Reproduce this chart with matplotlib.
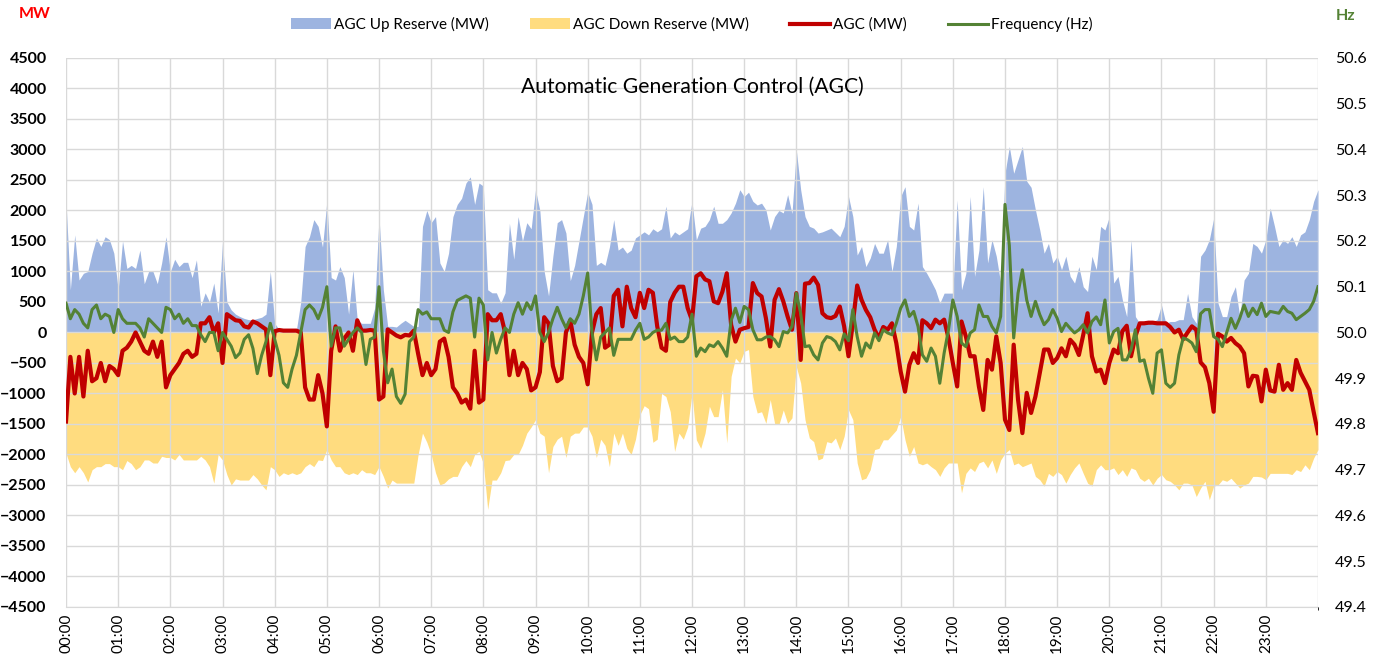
import numpy as np
import matplotlib
matplotlib.use("Agg")
import matplotlib.pyplot as plt
from matplotlib.patches import Patch
from matplotlib.lines import Line2D

plt.rcParams['font.family'] = ['Lato', 'DejaVu Sans']

# one reading every 5 minutes, 00:00 .. 24:00
minutes = np.arange(0, 1441, 5)

# 00:00 - 11:55
up_am = [
    2150, 700, 1600, 860, 970, 1000, 1300, 1550, 1410, 1570, 1520, 1300,
    700, 1500, 1050, 1100, 1050, 1350, 800, 1000, 1000, 800, 1140, 1570,
    1000, 1200, 1080, 1150, 1150, 900, 1190, 430, 650, 500, 810, 320,
    1490, 500, 370, 300, 260, 230, 210, 210, 230, 250, 300, 1000,
    150, 50, 45, 45, 45, 45, 500, 1410, 1570, 1850, 1740, 1400,
    2150, 900, 860, 1080, 900, 300, 1030, 200, 150, 150, 150, 400,
    1900, 700, 100, 100, 90, 150, 200, 150, 100, 100, 1740, 2000,
    1800, 1900, 1140, 1000, 1300, 1900, 2100, 2200, 2450, 2550, 2100, 2450,
    2400, 700, 650, 650, 480, 650, 1790, 1200, 1900, 1500, 1800, 1700,
    2340, 2000, 1000, 600, 1250, 1800, 1850, 1630, 850, 1100, 1500, 1900,
    2300, 2100, 1100, 1150, 1100, 1400, 1850, 1350, 1400, 1300, 1350, 1550,
    1600, 1650, 1600, 1700, 1650, 1700, 2070, 1550, 1650, 1600, 1650, 1700,
]
# 12:00 - 18:00
up_pm = [
    2150, 1520, 1710, 1740, 1850, 2070, 1790, 1790, 1850, 1960, 2120, 2340,
    2230, 2300, 2150, 2090, 2120, 2010, 1680, 1900, 2000, 1960, 2260, 1950,
    2990, 2340, 1900, 1740, 1710, 1630, 1650, 1680, 1710, 1640, 1570, 1740,
    2230, 1900, 1270, 1410, 1080, 1220, 1460, 1300, 1300, 1520, 1000, 1410,
    2230, 2390, 1740, 1680, 2120, 1080, 970, 840, 700, 480, 645, 645,
    645, 2170, 700, 970, 2230, 920, 1350, 2390, 1140, 1520, 1250, 810,
    2610,
]
# 18:05 - 24:00
up_eve = [
    3050, 2610, 2830, 3050, 2480, 2380, 2010, 1680, 1300, 1460, 1140, 1250,
    1030, 1250, 920, 810, 1080, 750, 670, 1250, 1030, 1740, 1680, 1900,
    810, 920, 535, 260, 1520, 260, 150, 180, 180, 180, 210, 450,
    150, 180, 180, 210, 210, 640, 260, 150, 1250, 1350, 1520, 1870,
    480, 260, 260, 590, 750, 260, 860, 970, 1460, 1410, 1300, 1520,
    2040, 1740, 1410, 1520, 1460, 1570, 1410, 1600, 1650, 1850, 2150, 2340,
]

down_am = [
    -1980, -2200, -2300, -2200, -2300, -2450, -2250, -2200, -2200, -2150, -2150, -2200,
    -2200, -2250, -2100, -2150, -2250, -2200, -2090, -2090, -2140, -2140, -2030, -2050,
    -2050, -2090, -2000, -2090, -2090, -2090, -2090, -2030, -2090, -2200, -2470, -2000,
    -2090, -2330, -2500, -2400, -2420, -2420, -2420, -2330, -2400, -2500, -2580, -2200,
    -2250, -2360, -2300, -2330, -2300, -2330, -2300, -2200, -2150, -2200, -2090, -2100,
    -1920, -2090, -2200, -2200, -2300, -2330, -2300, -2330, -2250, -2300, -2300, -2330,
    -2200, -2360, -2550, -2420, -2470, -2470, -2470, -2470, -2470, -2000, -1650, -1800,
    -2000, -2300, -2500, -2470, -2400, -2360, -2360, -2200, -2100, -2200, -2000, -1950,
    -2150, -2900, -2420, -2420, -2300, -2100, -2090, -2000, -2000, -1850, -1650, -1550,
    -1430, -1650, -1700, -2300, -1870, -1750, -1700, -2050, -1700, -1650, -1650, -1550,
    -1550, -1700, -2050, -1750, -1850, -2200, -1650, -1850, -1650, -1900, -2000, -1750,
    -1350, -1200, -1250, -1800, -1750, -1000, -1050, -1300, -1950, -1650, -1750, -1550,
]
down_pm = [
    -1000, -1760, -1900, -1650, -1210, -1380, -1380, -940, -1810, -720, -420, -500,
    -310, -280, -1050, -1320, -1300, -1490, -1100, -1490, -1510, -1270, -1490, -1400,
    -560, -830, -1430, -1730, -1790, -2090, -2060, -1790, -1810, -1730, -1920, -1700,
    -1270, -1430, -2140, -2415, -2390, -2250, -1920, -1900, -1760, -1760, -1680, -1600,
    -1380, -1760, -2030, -1870, -2140, -2170, -2140, -2200, -2250, -2360, -2220, -2140,
    -2140, -2140, -2630, -2310, -2220, -2280, -2140, -2110, -2220, -2090, -2310, -2090,
    -1980,
]
down_eve = [
    -1920, -2170, -2140, -2200, -2170, -2140, -2360, -2415, -2520, -2310, -2360, -2280,
    -2330, -2470, -2330, -2220, -2140, -2310, -2470, -2520, -2250, -2170, -2250, -2250,
    -2220, -2330, -2250, -2360, -2220, -2250, -2390, -2440, -2390, -2500, -2390, -2330,
    -2415, -2440, -2500, -2580, -2470, -2470, -2500, -2690, -2550, -2440, -2740, -2520,
    -2500, -2415, -2440, -2390, -2470, -2550, -2500, -2470, -2360, -2360, -2370, -2415,
    -2310, -2310, -2310, -2310, -2310, -2330, -2250, -2280, -2170, -2250, -2060, -1920,
]

agc_am = [
    -1460, -400, -1000, -400, -1050, -300, -800, -750, -500, -800, -550, -600,
    -700, -300, -250, -150, 0, -150, -300, -350, -150, -400, -150, -900,
    -700, -600, -500, -350, -300, -400, -350, 150, 150, 250, 0, 150,
    -500, 300, 250, 200, 190, 100, 80, 180, 150, 100, 50, -700,
    20, 40, 30, 30, 30, 30, 0, -900, -1100, -1100, -700, -1000,
    -1540, -300, 100, -300, -100, 0, -300, 200, 30, 30, 40, 30,
    -1100, -1050, 50, 0, -50, -80, -40, -50, 30, -350, -700, -500,
    -700, -600, -150, -100, -400, -900, -1000, -1150, -1100, -1250, -300, -1150,
    -1100, 300, 200, 200, 300, 0, -700, -300, -700, -500, -600, -950,
    -900, -650, 250, 150, -550, -800, -750, 0, 200, -200, -400, -500,
    -850, 0, 300, 400, -250, -200, 600, 700, 100, 750, 400, 250,
    650, 400, 700, 650, 100, -250, -300, 500, 650, 750, 750, 400,
]
agc_pm = [
    200, 920, 970, 870, 840, 510, 480, 670, 970, 125, -150, 45,
    70, 90, 810, 645, 590, 235, -230, 535, 710, 510, 260, 45,
    645, -450, 800, 810, 900, 780, 315, 250, 235, 270, 425, 100,
    -390, 150, 770, 535, 370, 250, 45, -90, 90, 45, 150, -175,
    -640, -970, -530, -340, -500, 200, 150, 70, 210, 150, 210, -90,
    -500, -885, 180, -65, -390, -390, -885, -1270, -450, -610, -65, -500,
    -1430,
]
agc_eve = [
    -1600, -200, -1100, -1650, -990, -1320, -1050, -660, -280, -280, -500, -420,
    -260, -390, -120, -200, -370, -40, 315, -390, -640, -610, -830, -500,
    -280, -340, 20, 110, -390, -65, 150, 150, 160, 160, 150, 150,
    150, 90, 0, 45, -110, 0, 100, 45, -490, -570, -830, -1300,
    -20, -65, -150, -90, -175, -230, -340, -885, -710, -720, -1130, -610,
    -950, -970, -530, -940, -830, -940, -450, -660, -800, -940, -1300, -1650,
]

freq_am = [
    50.064, 50.03, 50.05, 50.04, 50.02, 50.01, 50.05, 50.06, 50.03, 50.04, 50.035, 50.0,
    50.05, 50.03, 50.02, 50.02, 50.02, 50.01, 49.99, 50.03, 50.02, 50.01, 50.0, 50.055,
    50.05, 50.03, 50.04, 50.02, 50.03, 50.015, 50.015, 49.995, 49.98, 50.0, 50.0, 49.96,
    50.0, 49.985, 49.97, 49.945, 49.955, 49.985, 49.995, 49.965, 49.91, 49.95, 49.98, 50.02,
    49.985, 49.95, 49.89, 49.88, 49.92, 49.95, 50.0, 50.05, 50.06, 50.05, 50.03, 50.055,
    50.10, 49.97, 50.01, 50.01, 49.97, 49.985, 50.0, 50.01, 50.0, 49.93, 49.985, 49.99,
    50.10, 49.96, 49.89, 49.92, 49.86, 49.845, 49.865, 49.98, 49.99, 50.05, 50.04, 50.045,
    50.03, 50.03, 50.03, 50.005, 50.0, 50.045, 50.07, 50.075, 50.08, 50.075, 49.99, 50.075,
    50.06, 49.94, 50.0, 49.955, 49.985, 50.01, 50.0, 50.04, 50.065, 50.04, 50.065, 50.05,
    50.08, 50.0, 49.98, 50.0, 50.03, 50.055, 50.03, 50.01, 50.03, 50.02, 50.04, 50.08,
    50.13, 50.0, 49.94, 49.99, 50.0, 50.01, 49.95, 49.985, 49.985, 49.985, 49.985, 50.005,
    50.02, 49.985, 49.99, 50.0, 50.005, 50.005, 50.02, 49.985, 49.99, 49.98, 49.98, 49.99,
]
freq_pm = [
    50.04, 49.948, 49.966, 49.958, 49.973, 49.969, 49.98, 49.966, 49.948, 50.026, 50.053, 50.022,
    50.057, 50.05, 50.006, 49.984, 49.984, 49.99, 49.991, 49.984, 49.969, 50.002, 49.999, 50.013,
    50.086, 50.042, 49.969, 49.971, 49.951, 49.94, 49.977, 49.991, 49.988, 49.98, 49.962, 49.997,
    49.982, 50.05, 49.991, 49.948, 49.977, 49.966, 49.999, 49.982, 50.006, 49.999, 49.995, 50.02,
    50.053, 50.071, 50.035, 50.046, 50.013, 49.951, 49.937, 49.966, 49.948, 49.889, 49.955, 50.006,
    50.071, 50.035, 49.977, 49.969, 49.999, 50.006, 50.06, 50.035, 50.035, 50.013, 49.999, 50.035,
    50.28,
]
freq_eve = [
    50.19, 49.988, 50.086, 50.137, 50.071, 50.035, 50.068, 50.039, 50.017, 50.028, 50.05, 50.031,
    50.002, 50.02, 50.009, 49.999, 50.006, 50.017, 49.999, 50.024, 50.034, 50.017, 50.071, 49.977,
    50.002, 50.009, 49.94, 49.94, 49.962, 50.006, 49.937, 49.94, 49.9, 49.867, 49.955, 49.962,
    49.889, 49.88, 49.889, 49.951, 49.988, 49.984, 49.977, 49.958, 50.041, 50.05, 50.05, 49.991,
    49.985, 49.969, 50.0, 50.031, 50.009, 50.031, 50.06, 50.035, 50.053, 50.039, 50.064, 50.035,
    50.046, 50.044, 50.042, 50.057, 50.046, 50.042, 50.028, 50.035, 50.042, 50.05, 50.068, 50.1,
]

up_reserve = up_am + up_pm + up_eve
down_reserve = down_am + down_pm + down_eve
agc = agc_am + agc_pm + agc_eve
frequency = freq_am + freq_pm + freq_eve

hour_labels = ['%02d:00' % h for h in range(24)]

fig = plt.figure(figsize=(13.84, 6.59), dpi=100)
ax = fig.add_axes([0.0477, 0.079, 0.9046, 0.833])

ax.fill_between(minutes, 0, up_reserve, color='#9DB4E0', lw=0, zorder=1)
ax.fill_between(minutes, 0, down_reserve, color='#FFDC7F', lw=0, zorder=1)
ax.plot(minutes, agc, color='#C00000', lw=3, zorder=4, solid_joinstyle='round')

ax.set_xlim(0, 1440)
ax.set_ylim(-4500, 4500)
ax.set_yticks(np.arange(-4500, 4501, 500))
ax.set_xticks(np.arange(0, 1440, 60))
ax.set_xticks(np.arange(0, 1441, 60), minor=True)
ax.set_xticklabels(hour_labels, rotation=90, fontsize=11)
ax.tick_params(axis='y', labelsize=11.5, length=0, pad=14)
ax.tick_params(axis='x', length=0, pad=5)
for lab in ax.get_yticklabels():
    lab.set_fontweight('bold')
ax.grid(True, which='both', color='#D9D9D9', lw=1)
ax.set_axisbelow(False)
for s in ax.spines.values():
    s.set_visible(False)
ax.spines['bottom'].set_visible(True)
ax.spines['bottom'].set_color('#D9D9D9')

ax2 = ax.twinx()
ax2.plot(minutes, frequency, color='#548235', lw=2.2, solid_joinstyle='round')
ax2.set_ylim(49.4, 50.6)
ax2.set_yticks(np.arange(49.4, 50.61, 0.1))
ax2.set_yticklabels(['%.1f' % v for v in np.arange(49.4, 50.61, 0.1)])
ax2.tick_params(axis='y', labelsize=11.5, length=0, pad=12)
for s in ax2.spines.values():
    s.set_visible(False)

ax.text(0.5, 0.965, 'Automatic Generation Control (AGC)', transform=ax.transAxes,
        ha='center', va='top', fontsize=15.2, zorder=10)

fig.text(0.025, 0.978, 'MW', color='#FF0000', fontweight='bold', fontsize=11.5,
         ha='center', va='center')
fig.text(0.9725, 0.975, 'Hz', color='#548235', fontweight='bold', fontsize=11.5,
         ha='center', va='center')

handles = [
    Patch(facecolor='#9DB4E0', edgecolor='none'),
    Patch(facecolor='#FFDC7F', edgecolor='none'),
    Line2D([], [], color='#C00000', lw=3),
    Line2D([], [], color='#548235', lw=2.2),
]
labels = ['AGC Up Reserve (MW)', 'AGC Down Reserve (MW)', 'AGC (MW)', 'Frequency (Hz)']
fig.legend(handles, labels, loc='center', bbox_to_anchor=(0.5, 0.963), ncol=4,
           frameon=False, fontsize=11, handlelength=2.6, handletextpad=0.2,
           columnspacing=2.7)

fig.savefig('out.png', dpi=100)
